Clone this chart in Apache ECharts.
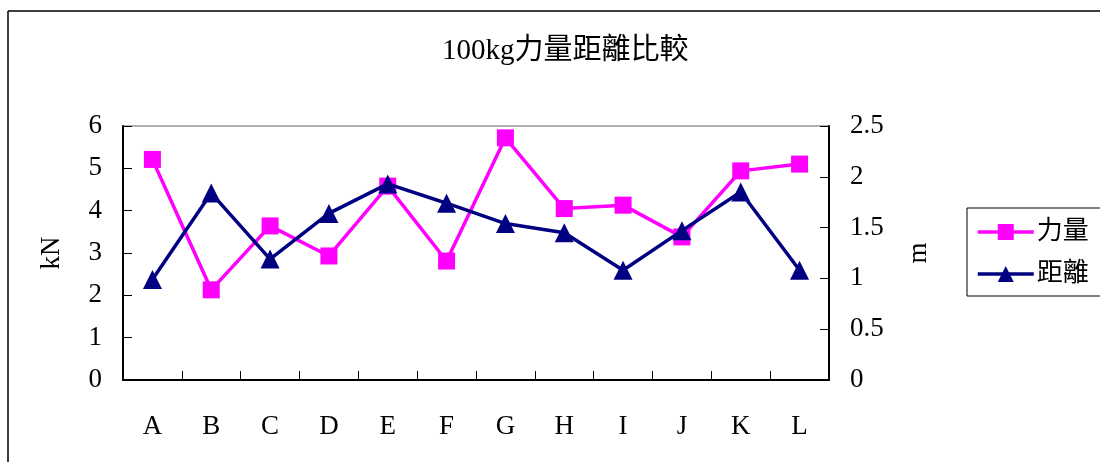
<!DOCTYPE html>
<html>
<head>
<meta charset="utf-8">
<style>
  html, body { margin: 0; padding: 0; background: #fff; }
  #chart { width: 1100px; height: 462px; }
</style>
<script src="https://cdn.jsdelivr.net/npm/echarts@6/dist/echarts.min.js"></script>
</head>
<body>
<div id="chart"></div>
<script>
// Sample labels along the category axis
const categories = ['A', 'B', 'C', 'D', 'E', 'F', 'G', 'H', 'I', 'J', 'K', 'L'];
// Force in kN (left axis)
const forceKN = [5.21, 2.13, 3.64, 2.93, 4.58, 2.81, 5.72, 4.05, 4.13, 3.38, 4.94, 5.10];
// Distance in m (right axis)
const distanceM = [0.99, 1.84, 1.19, 1.64, 1.93, 1.74, 1.54, 1.45, 1.08, 1.47, 1.85, 1.08];
const seriesNames = ['力量', '距離'];
const chartTitle = '100kg力量距離比較';

const FONT = "'Liberation Serif', 'Noto Sans CJK TC', serif";
const chart = echarts.init(document.getElementById('chart'), null, { renderer: 'canvas' });

const axisLine = { show: true, lineStyle: { color: '#000', width: 2 } };
const axisTick = { show: true, inside: true, length: 9, lineStyle: { color: '#000', width: 1 } };
const labelFont = { fontFamily: FONT, fontSize: 27, color: '#000' };

chart.setOption({
  backgroundColor: '#fff',
  animation: false,
  textStyle: { fontFamily: FONT },
  title: {
    text: chartTitle,
    left: 437,
    top: 32,
    textStyle: { fontFamily: FONT, fontSize: 29, fontWeight: 'normal', color: '#000' }
  },
  graphic: [
    // outer frame of the chart area
    { type: 'line', shape: { x1: 8, y1: 11, x2: 1100, y2: 11 }, style: { stroke: '#404040', lineWidth: 2 } },
    { type: 'line', shape: { x1: 8, y1: 11, x2: 8, y2: 462 }, style: { stroke: '#000', lineWidth: 1.5 } },
    // top edge of the plot area
    { type: 'line', shape: { x1: 123, y1: 126, x2: 829, y2: 126 }, style: { stroke: '#999', lineWidth: 1.5 } }
  ],
  legend: {
    orient: 'vertical',
    left: 967,
    top: 208,
    padding: [11, 40, 9, 9],
    itemGap: 16,
    itemWidth: 56,
    itemHeight: 20,
    borderColor: '#000',
    borderWidth: 1,
    lineStyle: { width: 3.5 },
    textStyle: { fontFamily: FONT, fontSize: 26, color: '#000', padding: [0, 0, 0, -2] },
    data: seriesNames
  },
  grid: { left: 123, right: 271, top: 126, bottom: 82 },
  xAxis: {
    type: 'category',
    data: categories,
    boundaryGap: true,
    axisLine: axisLine,
    axisTick: axisTick,
    axisLabel: Object.assign({ margin: 33 }, labelFont),
    splitLine: { show: false }
  },
  yAxis: [
    {
      type: 'value',
      min: 0, max: 6, interval: 1,
      name: 'kN',
      nameLocation: 'middle',
      nameGap: 58,
      nameRotate: 90,
      nameTextStyle: labelFont,
      axisLine: axisLine,
      axisTick: axisTick,
      axisLabel: Object.assign({ margin: 21 }, labelFont),
      splitLine: { show: false }
    },
    {
      type: 'value',
      min: 0, max: 2.5, interval: 0.5,
      position: 'right',
      name: 'm',
      nameLocation: 'middle',
      nameGap: 76,
      nameRotate: 90,
      nameTextStyle: labelFont,
      axisLine: axisLine,
      axisTick: axisTick,
      axisLabel: Object.assign({ margin: 21 }, labelFont),
      splitLine: { show: false }
    }
  ],
  series: [
    {
      name: seriesNames[0],
      type: 'line',
      yAxisIndex: 0,
      data: forceKN,
      symbol: 'rect',
      symbolSize: 17,
      itemStyle: { color: '#FF00FF' },
      lineStyle: { color: '#FF00FF', width: 3.5 },
      z: 2
    },
    {
      name: seriesNames[1],
      type: 'line',
      yAxisIndex: 1,
      data: distanceM,
      symbol: 'triangle',
      symbolSize: 19,
      itemStyle: { color: '#000080' },
      lineStyle: { color: '#000080', width: 3.5 },
      z: 3
    }
  ]
});
</script>
</body>
</html>
